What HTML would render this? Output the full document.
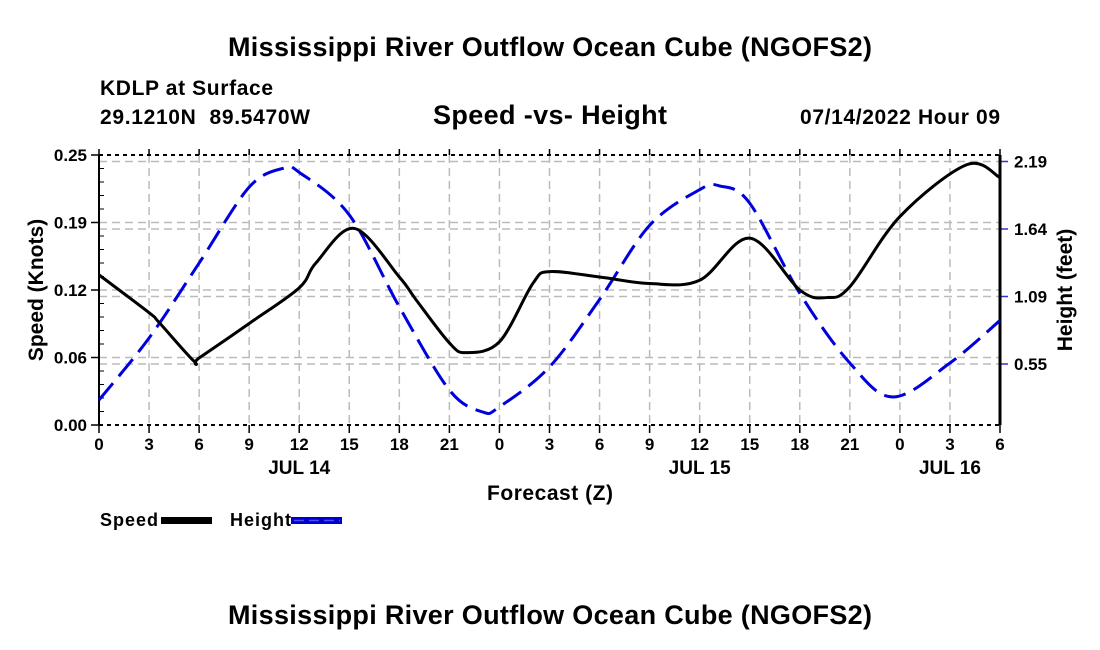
<!DOCTYPE html>
<html><head><meta charset="utf-8">
<style>
body{margin:0;background:#fff;}
svg{display:block;font-family:"Liberation Sans",Arial,sans-serif;font-weight:bold;}
</style></head>
<body>
<svg id="chart" width="1100" height="650" viewBox="0 0 1100 650">
<text x="550" y="56" font-size="27" text-anchor="middle" textLength="644">Mississippi River Outflow Ocean Cube (NGOFS2)</text>
<text x="100" y="95" font-size="21" textLength="173">KDLP at Surface</text>
<text x="100" y="124" font-size="21" textLength="210" xml:space="preserve">29.1210N  89.5470W</text>
<text x="550" y="124" font-size="27" text-anchor="middle" textLength="234">Speed -vs- Height</text>
<text x="1000" y="124" font-size="21" text-anchor="end" textLength="200">07/14/2022 Hour 09</text>
<g id="grid"></g>
<g id="axes"></g>
<g id="series"></g>
<text x="550" y="500" font-size="21" text-anchor="middle" textLength="126">Forecast (Z)</text>
<text transform="translate(43,290) rotate(-90)" font-size="21" text-anchor="middle">Speed (Knots)</text>
<text transform="translate(1072,290) rotate(-90)" font-size="21" text-anchor="middle">Height (feet)</text>
<g>
<text x="100" y="526" font-size="18" textLength="58">Speed</text>
<rect x="161" y="517" width="51" height="7" fill="#000"/>
<text x="230" y="526" font-size="18" textLength="61">Height</text>
<rect x="291" y="517" width="51" height="7" fill="#0000cc"/>
<line x1="294" y1="520.5" x2="340" y2="520.5" stroke="#4a4aff" stroke-width="1.5" stroke-dasharray="10 5"/>
</g>
<text x="550" y="624" font-size="27" text-anchor="middle" textLength="644">Mississippi River Outflow Ocean Cube (NGOFS2)</text>
</svg>
<script>
const speedHours=[0,3,3.6,5.7,6,9,12,13,15.3,18,19,21,22,24,26,27,30,33,36,39,42,43.6,45,48,52,54];
const speedValues=[0.139,0.104,0.095,0.059,0.062,0.094,0.127,0.150,0.182,0.137,0.116,0.076,0.067,0.077,0.131,0.142,0.137,0.131,0.134,0.173,0.125,0.118,0.128,0.193,0.241,0.229];
const heightHours=[0,3,6,9,11.1,12,15,18,21,23,24,27,30,33,36,37.2,39,42,45,47.6,51,54];
const heightValues=[0.255,0.758,1.365,1.98,2.135,2.10,1.755,1.01,0.336,0.158,0.20,0.523,1.07,1.67,1.96,1.99,1.85,1.12,0.555,0.28,0.555,0.90];
const xTickLabels=["0","3","6","9","12","15","18","21","0","3","6","9","12","15","18","21","0","3","6"];
const dayLabels=[{h:12,t:"JUL 14"},{h:36,t:"JUL 15"},{h:51,t:"JUL 16"}];
const leftTicks=[0,0.0625,0.125,0.1875,0.25];
const leftTickLabels=["0.00","0.06","0.12","0.19","0.25"];
const rightTicks=[0.547,1.094,1.641,2.188];
const rightTickLabels=["0.55","1.09","1.64","2.19"];

const X0=99,X1=1000,Y0=425,Y1=155;
const x=h=>X0+(X1-X0)*h/54;
const yS=v=>Y0-(Y0-Y1)*v/0.25;
const yH=v=>431.5-v*123.4;
const NS="http://www.w3.org/2000/svg";
function mk(tag,attrs,parent){const e=document.createElementNS(NS,tag);for(const k in attrs)e.setAttribute(k,attrs[k]);parent.appendChild(e);return e;}
const grid=document.getElementById('grid'),axes=document.getElementById('axes'),series=document.getElementById('series');
xTickLabels.forEach((l,i)=>{const h=i*3;
 if(i>0&&i<18){const g=mk('line',{x1:x(h),x2:x(h),y1:Y1,y2:Y0,stroke:'#bbb','stroke-width':1.5,'stroke-dasharray':'8 5'},grid);
 
 }
 mk('line',{x1:x(h),x2:x(h),y1:Y0,y2:Y0+8,stroke:'#000','stroke-width':1.5},axes);
 mk('line',{x1:x(h),x2:x(h),y1:Y1,y2:Y1-6,stroke:'#000','stroke-width':1.5},axes);
 const tx=mk('text',{x:x(h),y:Y0+25,'font-size':17,'text-anchor':'middle'},axes);tx.textContent=l;
 
 
});
dayLabels.forEach(d=>{const t=mk('text',{x:x(d.h),y:Y0+49,'font-size':19,'text-anchor':'middle'},axes);t.textContent=d.t;
 
 });
leftTicks.forEach((v,i)=>{
 if(i>0&&i<4){const g=mk('line',{x1:X0,x2:X1,y1:yS(v),y2:yS(v),stroke:'#bbb','stroke-width':1.5,'stroke-dasharray':'8 5'},grid);
 
 }
 mk('line',{x1:X0-8,x2:X0,y1:yS(v),y2:yS(v),stroke:'#000','stroke-width':1.5},axes);
 const t=mk('text',{x:X0-12,y:yS(v)+6,'font-size':17,'text-anchor':'end'},axes);t.textContent=leftTickLabels[i];
 
 
});
for(let k=1;k<20;k++){if(k%5)mk('line',{x1:X0,x2:X0+5,y1:yS(k*0.0125),y2:yS(k*0.0125),stroke:'#000','stroke-width':1},axes);}
rightTicks.forEach((v,i)=>{
 const g=mk('line',{x1:X0,x2:X1,y1:yH(v),y2:yH(v),stroke:'#bbb','stroke-width':1.5,'stroke-dasharray':'8 5'},grid);
 
 
 mk('line',{x1:X1,x2:X1+8,y1:yH(v),y2:yH(v),stroke:'#33c','stroke-width':1.5},axes);
 const t=mk('text',{x:X1+14,y:yH(v)+6,'font-size':17},axes);t.textContent=rightTickLabels[i];
 
 
});
mk('line',{x1:X0,x2:X1,y1:Y1,y2:Y1,stroke:'#000','stroke-width':2,'stroke-dasharray':'4 4'},axes);
mk('line',{x1:X0,x2:X1,y1:Y0,y2:Y0,stroke:'#000','stroke-width':2,'stroke-dasharray':'4 4'},axes);
mk('line',{x1:X0,x2:X0,y1:Y1,y2:Y0,stroke:'#000','stroke-width':2},axes);
mk('line',{x1:X1,x2:X1,y1:Y1,y2:Y0,stroke:'#000','stroke-width':3},axes);
function smooth(px,py){let d=`M${px[0]},${py[0]}`;const n=px.length;
 for(let i=0;i<n-1;i++){const p0=i?i-1:i,p3=i+2<n?i+2:i+1;
  const c1x=px[i]+(px[i+1]-px[p0])/6,c1y=py[i]+(py[i+1]-py[p0])/6;
  const c2x=px[i+1]-(px[p3]-px[i])/6,c2y=py[i+1]-(py[p3]-py[i])/6;
  d+=` C${c1x},${c1y} ${c2x},${c2y} ${px[i+1]},${py[i+1]}`;}
 return d;}
const hp=mk('path',{d:smooth(heightHours.map(x),heightValues.map(yH)),fill:'none',stroke:'#0000dd','stroke-width':3,'stroke-dasharray':'22 9'},series);


const sp=mk('path',{d:smooth(speedHours.map(x),speedValues.map(yS)),fill:'none',stroke:'#000','stroke-width':3},series);


</script>
</body></html>
